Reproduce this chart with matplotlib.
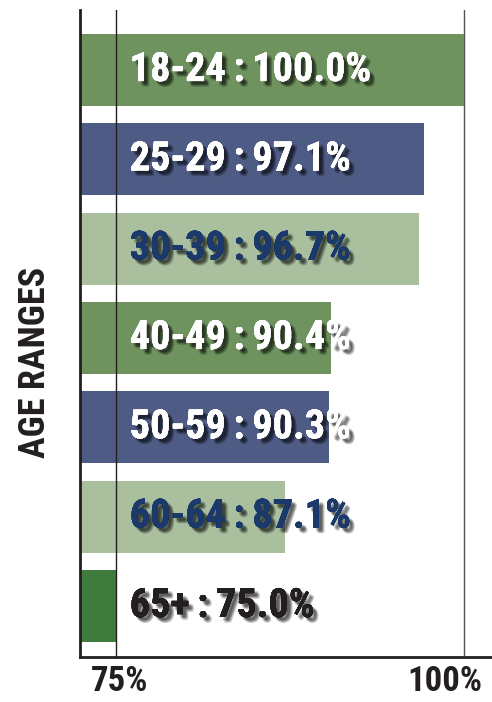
import numpy as np
import matplotlib
matplotlib.use("Agg")
import matplotlib.pyplot as plt
import matplotlib.patheffects as pe
from matplotlib.transforms import ScaledTranslation
from matplotlib import font_manager

# ---------- Data ----------
age_ranges = ["18-24", "25-29", "30-39", "40-49", "50-59", "60-64", "65+"]
pct_values = [100.0, 97.1, 96.7, 90.4, 90.3, 87.1, 75.0]
bar_colors = ["#6F935F", "#4E5B85", "#A9BF9E", "#6F935F", "#4E5B85", "#A9BF9E", "#3F7B3C"]
text_colors = ["white", "white", "#1B3A6B", "white", "white", "#1B3A6B", "#231F20"]
tick_vals = [75, 100]
tick_labels = ["75%", "100%"]

X0, X1 = 72.38, 101.98

# pick a narrow bold face if one is installed
names = {f.name for f in font_manager.fontManager.ttflist}
narrow = [n for n in ["Liberation Sans Narrow", "Roboto Condensed", "Open Sans Condensed",
                      "DejaVu Sans Condensed"] if n in names]
FONT = narrow + ["DejaVu Sans"]
stretch = "condensed"
WEIGHT = "heavy"

fig = plt.figure(figsize=(4.92, 7.02), dpi=100)
ax = fig.add_axes([80 / 492, 1 - 657 / 702, 1 - 80 / 492, (657 - 10) / 702])

ypos = np.arange(len(age_ranges))
widths = np.array(pct_values) - X0
ax.barh(ypos, widths, left=X0, height=0.806, color=bar_colors, zorder=1)

ax.axvline(75, color="#231F20", lw=1.0, zorder=2)
ax.axvline(100, color="#555555", lw=1.0, zorder=0)

# soft drop shadow built from a few faint offset copies
shadow = [pe.withSimplePatchShadow(offset=(dx, dy), shadow_rgbFace="black", alpha=0.13)
          for dx, dy in [(2, -2), (3, -3), (4, -4), (3, -2), (2, -3), (4, -3), (3, -4)]]
shadow.append(pe.Normal())
fs = 29 if narrow else 20
for y, lab, v, tc in zip(ypos, age_ranges, pct_values, text_colors):
    ax.text(75.95, y, f"{lab}\u2009:\u2009{v:.1f}%", ha="left", va="center",
            fontsize=fs, fontweight=WEIGHT, family=FONT, fontstretch=stretch, color=tc,
            path_effects=shadow, zorder=3)

ax.set_xlim(X0, X1)
ax.set_ylim(6.571, -0.672)

for s in ["top", "right"]:
    ax.spines[s].set_visible(False)
for s in ["left", "bottom"]:
    ax.spines[s].set_linewidth(2)
    ax.spines[s].set_color("#231F20")

ax.set_yticks([])
ax.set_xticks(tick_vals)
ax.set_xticklabels(tick_labels, fontsize=fs - 4, fontweight=WEIGHT, family=FONT,
                   fontstretch=stretch, color="#231F20")
ax.tick_params(axis="x", length=0, pad=6)
lbls = ax.get_xticklabels()
lbls[0].set_transform(lbls[0].get_transform() + ScaledTranslation(0.03, 0, fig.dpi_scale_trans))
lbls[1].set_transform(lbls[1].get_transform() + ScaledTranslation(-0.2, 0, fig.dpi_scale_trans))

fig.text(35 / 492, 1 - 362 / 702, "AGE RANGES", rotation=90, ha="center", va="center",
         fontsize=fs - 3, fontweight=WEIGHT, family=FONT, fontstretch=stretch, color="#231F20")

fig.savefig("out.png", dpi=100)
